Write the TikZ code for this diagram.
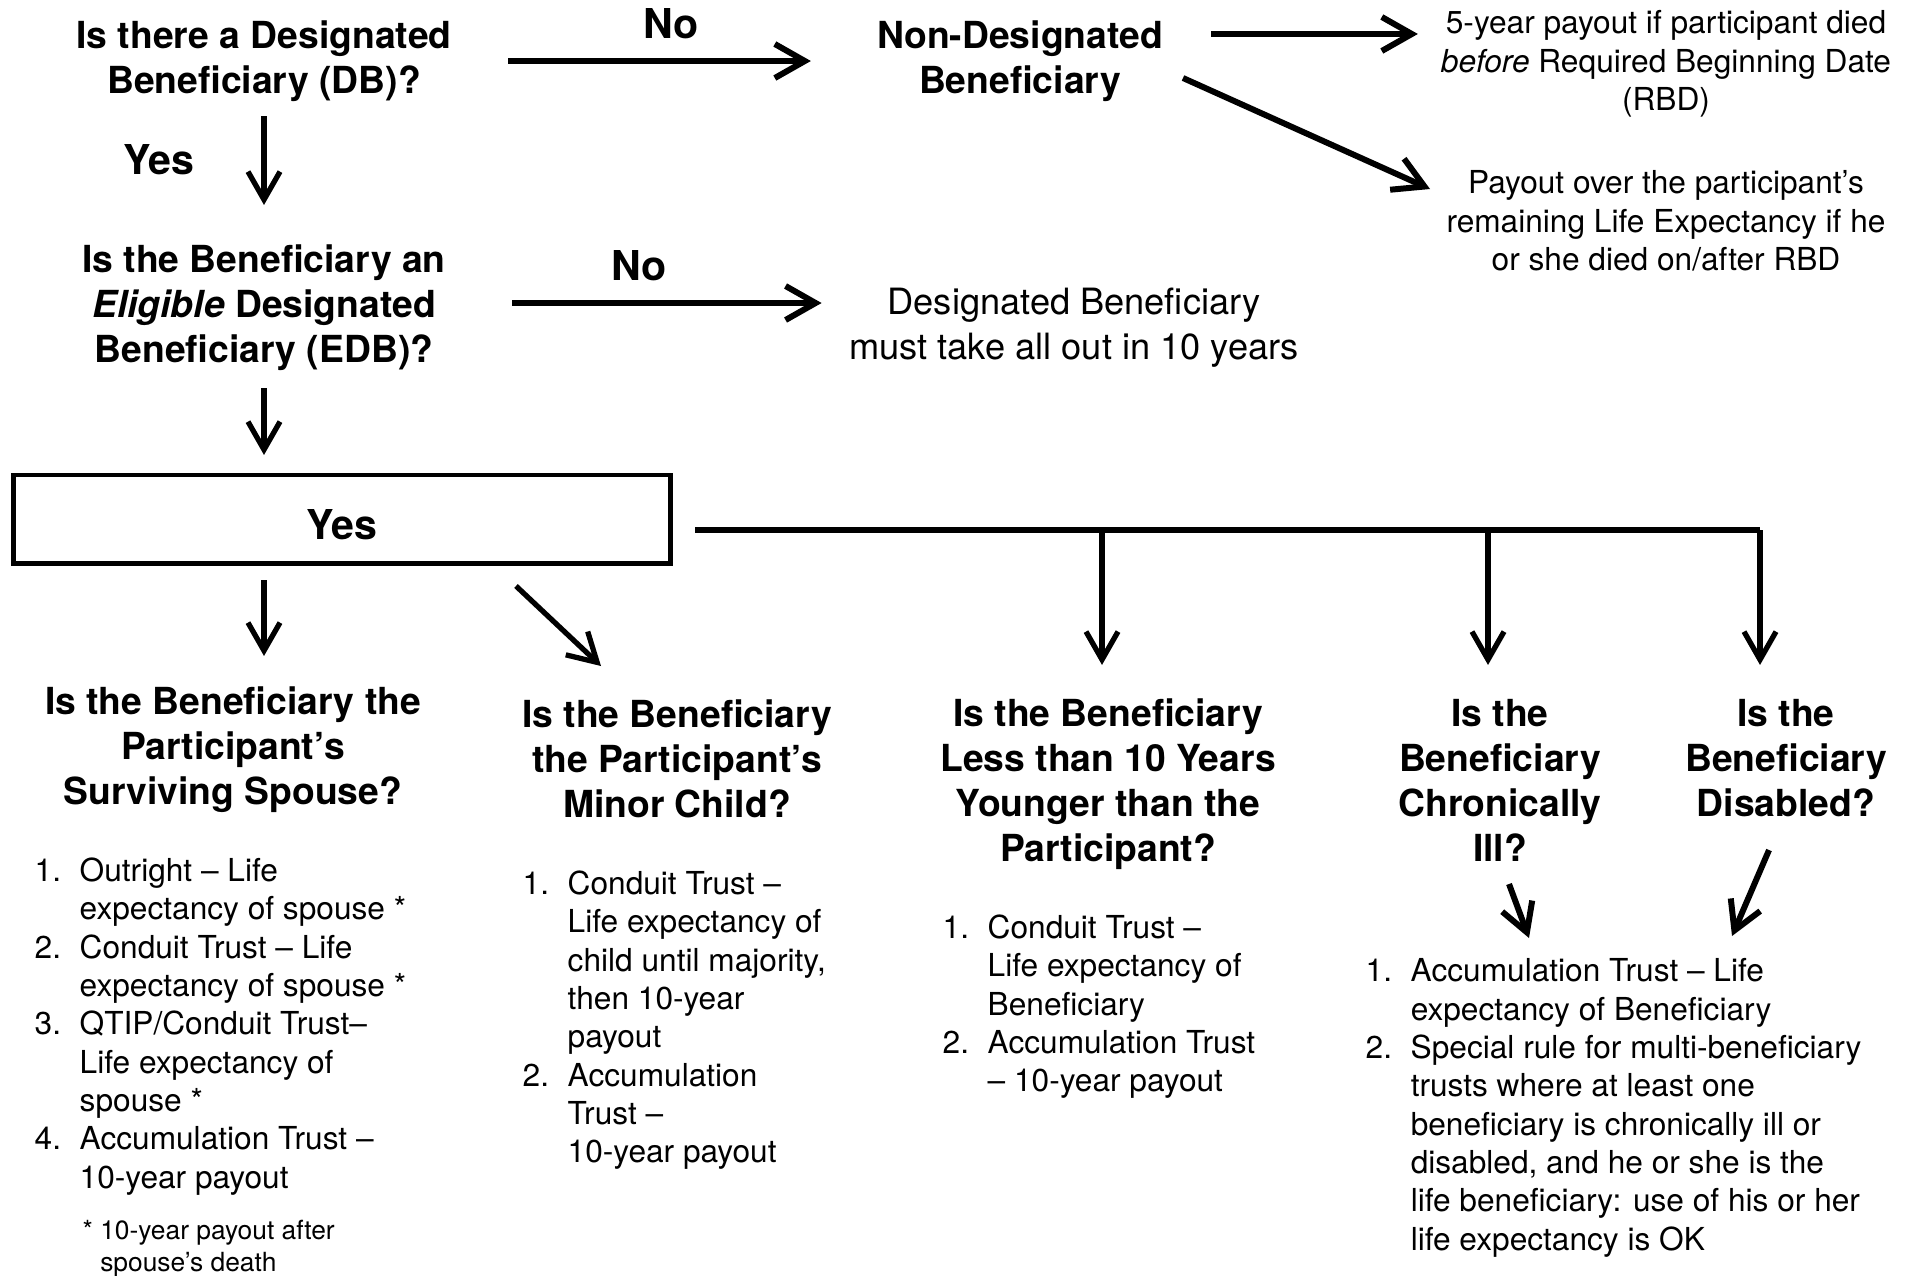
\documentclass[tikz,border=0pt]{standalone}
\usepackage{fontspec}
\setmainfont{TeX Gyre Heros}
\usetikzlibrary{arrows.meta,positioning}

\newcommand{\nr}[1]{\makebox[4.5mm][l]{#1}}

\tikzset{
  ask/.style={font=\fontsize{10.6}{12.8}\selectfont\bfseries, align=center, inner sep=0pt},
  lbl/.style={font=\fontsize{11.7}{14}\selectfont\bfseries, inner sep=0pt},
  outc/.style={font=\fontsize{9}{10.9}\selectfont, align=center, inner sep=0pt},
  opts/.style={font=\fontsize{9}{10.9}\selectfont, align=left, anchor=north west, inner sep=0pt},
  arr/.style={-{Straight Barb[length=3mm,width=3.4mm]}, line width=1.7pt},
  arrt/.style={-{Straight Barb[length=2.8mm,width=3.2mm]}, line width=1.5pt},
}

\begin{document}
\begin{tikzpicture}[x=0.01cm,y=-0.01cm]
\useasboundingbox (0,0) rectangle (1913,1275);

\node[ask] (db) at (264,61) {Is there a Designated\\Beneficiary (DB)?};
\node[ask] (ndb) at (1020,61) {Non-Designated\\Beneficiary};
\node[outc] (five) at (1666,64) {5-year payout if participant died\\\emph{before} Required Beginning Date\\(RBD)};
\node[outc] (life) at (1666,221) {Payout over the participant’s\\remaining Life Expectancy if he\\or she died on/after RBD};

\node[lbl] (no1) at (671,24) {No};
\draw [arr, shorten <=24.4mm, shorten >=20.9mm] (db.center) to (ndb.center);
\draw [arr, shorten <=19.1mm, shorten >=24.8mm] ([yshift=2.7mm]ndb.center) to ([yshift=2.7mm]ndb.center -| five.center);
\draw [arr] ([shift={(163,17)}]ndb.center) to ([shift={(-236,-32)}]life.center);

\node[ask] (edb) at (264,308) {Is the Beneficiary an\\\emph{Eligible} Designated\\Beneficiary (EDB)?};
\node[lbl] (yes1) at (159,160) {Yes};
\draw [arrt, shorten <=5.5mm, shorten >=10.3mm] (db.center) to (edb.center);

\node[outc, font=\fontsize{10.3}{12.8}\selectfont] (ten) at (1074,328) {Designated Beneficiary\\must take all out in 10 years};
\node[lbl] (no2) at (639,266) {No};
\draw [arr, shorten <=24.8mm, shorten >=2.7mm] ([yshift=0.5mm]edb.center) to ([yshift=0.5mm]edb.center -| ten.west);

\node[lbl, draw, line width=1.4pt, minimum width=6.57cm, minimum height=0.88cm] (yes) at (342,519) {\raisebox{-0.5mm}[\height][0pt]{Yes}};
\draw [arrt, shorten <=8mm, shorten >=6.4mm] (edb.center) to (edb.center |- yes.center);

\node[ask] (spouse) at (233,750) {Is the Beneficiary the\\Participant’s\\Surviving Spouse?};
\node[ask] (child) at (677,759) {Is the Beneficiary\\the Participant’s\\Minor Child?};
\node[ask] (young) at (1108,784) {Is the Beneficiary\\Less than 10 Years\\Younger than the\\Participant?};
\node[ask] (ill) at (1500,780) {Is the\\Beneficiary\\Chronically\\Ill?};
\node[ask] (dis) at (1786,758) {Is the\\Beneficiary\\Disabled?};

\draw [arrt, shorten <=6.1mm, shorten >=9.4mm] (edb.center |- yes.center) to (edb.center |- spouse.center);
\draw [arrt] ([shift={(174,67)}]yes.center) to ([shift={(-76,-93)}]child.center);

\coordinate (j5) at (1102,530);
\coordinate (j6) at (1488,530);
\coordinate (j7) at (1760,530);
\draw [line width=1.7pt] ([shift={(353,11)}]yes.center) -- (j7);
\draw [arrt, shorten >=11.9mm] (j5) to (j5 |- young.center);
\draw [arrt, shorten >=11.5mm] (j6) to (j6 |- ill.center);
\draw [arrt, shorten >=9.3mm] (j7) to (j7 |- dis.center);

\node[opts] (l1) at (34,857) {\nr{1.}Outright – Life\\\nr{}expectancy of spouse *\\\nr{2.}Conduit Trust – Life\\\nr{}expectancy of spouse *\\\nr{3.}QTIP/Conduit Trust–\\\nr{}Life expectancy of\\\nr{}spouse *\\\nr{4.}Accumulation Trust –\\\nr{}10-year payout};
\node[opts, font=\fontsize{7.5}{9.1}\selectfont] (star) at (82,1219) {* 10-year payout after\\\phantom{* }spouse’s death};

\node[opts] (l2) at (522,870) {\nr{1.}Conduit Trust –\\\nr{}Life expectancy of\\\nr{}child until majority,\\\nr{}then 10-year\\\nr{}payout\\\nr{2.}Accumulation\\\nr{}Trust –\\\nr{}10-year payout};

\node[opts] (l3) at (942,914) {\nr{1.}Conduit Trust –\\\nr{}Life expectancy of\\\nr{}Beneficiary\\\nr{2.}Accumulation Trust\\\nr{}– 10-year payout};

\node[opts] (l4) at (1365,958) {\nr{1.}Accumulation Trust – Life\\\nr{}expectancy of Beneficiary\\\nr{2.}Special rule for multi-beneficiary\\\nr{}trusts where at least one\\\nr{}beneficiary is chronically ill or\\\nr{}disabled, and he or she is the\\\nr{}life beneficiary: use of his or her\\\nr{}life expectancy is OK};

\draw [arrt, line width=1.7pt] ([shift={(9,104)}]ill.center) to ([shift={(164,-20)}]l4.north west);
\draw [arrt, line width=1.7pt] ([shift={(-17,92)}]dis.center) to ([shift={(367,-22)}]l4.north west);

\end{tikzpicture}
\end{document}
